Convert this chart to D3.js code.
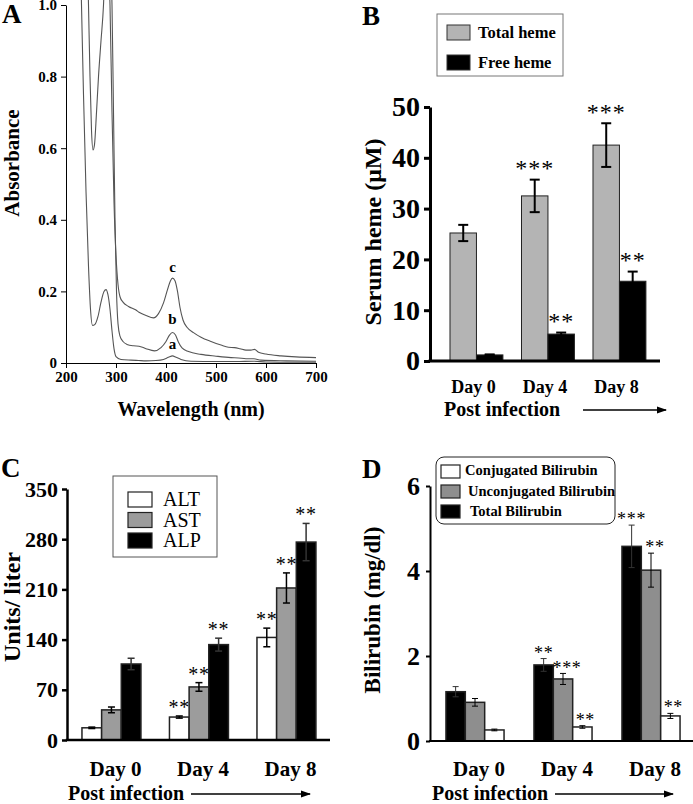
<!DOCTYPE html>
<html lang="en">
<head>
<meta charset="utf-8">
<title>Serum heme and liver markers</title>
<script src="https://d3js.org/d3.v7.min.js"></script>
<style>
  body { margin: 0; background: #fff; }
  svg text { font-family: "Liberation Serif", "DejaVu Serif", "Noto Serif", "Times New Roman", serif; }
</style>
</head>
<body>
<svg id="fig" width="693" height="804"></svg>
<script>
// ---------- panel A : absorbance spectra, [wavelength nm, absorbance]
const spectrumA = [[226,1.3],[231,1.0],[235,0.75],[240,0.48],[245,0.27],[249,0.15],[253,0.105],[258,0.108],[264,0.13],[270,0.17],[276,0.2],[280,0.205],[284,0.19],[288,0.15],[292,0.09],[296,0.04],[300,0.018],[310,0.01],[330,0.008],[345,0.007],[360,0.006],[380,0.007],[395,0.01],[405,0.016],[413,0.02],[420,0.016],[430,0.01],[450,0.005],[500,0.004],[540,0.004],[575,0.005],[600,0.003],[650,0.002],[700,0.002]];
const spectrumB = [[240,1.3],[245,1.0],[248,0.8],[251,0.65],[254,0.595],[257,0.61],[261,0.7],[265,0.8],[270,0.9],[275,1.0],[280,1.2],[285,1.25],[289,1.1],[292,1.0],[295,0.7],[298,0.4],[301,0.2],[304,0.11],[308,0.075],[314,0.06],[322,0.052],[335,0.048],[346,0.047],[360,0.04],[377,0.034],[390,0.043],[400,0.06],[407,0.078],[413,0.085],[419,0.078],[425,0.058],[432,0.042],[445,0.032],[470,0.024],[500,0.019],[530,0.015],[545,0.014],[560,0.012],[575,0.012],[590,0.008],[640,0.006],[700,0.005]];
const spectrumC = [[280,1.3],[285,1.1],[288,1.0],[292,0.7],[296,0.45],[300,0.3],[304,0.22],[308,0.185],[314,0.17],[325,0.158],[340,0.148],[346,0.142],[360,0.133],[375,0.126],[385,0.138],[395,0.168],[403,0.205],[409,0.23],[413,0.237],[418,0.23],[423,0.2],[428,0.155],[434,0.12],[442,0.1],[455,0.085],[470,0.072],[490,0.06],[510,0.05],[525,0.044],[537,0.043],[548,0.04],[560,0.036],[570,0.036],[577,0.038],[585,0.03],[600,0.025],[630,0.02],[660,0.017],[700,0.015]];
const wavelengthTicks = [200, 300, 400, 500, 600, 700];
const absorbanceTicks = [0, 0.2, 0.4, 0.6, 0.8, 1.0];

// ---------- shared
const days = ["Day 0", "Day 4", "Day 8"];

// ---------- panel B : serum heme (uM)
const totalHeme = [25.2, 32.5, 42.5];
const totalHemeErr = [1.6, 3.2, 4.3];
const totalHemeSig = ["", "***", "***"];
const freeHeme = [1.2, 5.3, 15.7];
const freeHemeErr = [0.1, 0.3, 1.9];
const freeHemeSig = ["", "**", "**"];
const hemeTicks = [0, 10, 20, 30, 40, 50];

// ---------- panel C : enzymes (units/liter)
const alt = [17, 32, 143];
const altErr = [1, 1.5, 13];
const altSig = ["", "**", "**"];
const ast = [42, 74, 212];
const astErr = [4, 6, 21];
const astSig = ["", "**", "**"];
const alp = [106, 133, 276];
const alpErr = [8, 9, 26];
const alpSig = ["", "**", "**"];
const enzymeTicks = [0, 70, 140, 210, 280, 350];

// ---------- panel D : bilirubin (mg/dl)
const totalBili = [1.16, 1.79, 4.58];
const totalBiliErr = [0.12, 0.15, 0.5];
const totalBiliSig = ["", "**", "***"];
const unconjBili = [0.91, 1.46, 4.02];
const unconjBiliErr = [0.09, 0.13, 0.4];
const unconjBiliSig = ["", "***", "**"];
const conjBili = [0.26, 0.33, 0.59];
const conjBiliErr = [0.02, 0.03, 0.06];
const conjBiliSig = ["", "**", "**"];
const biliTicks = [0, 2, 4, 6];

const svg = d3.select("#fig");
const serif = '"Liberation Serif", "DejaVu Serif", "Noto Serif", "Times New Roman", serif';

svg.append("defs").append("marker")
  .attr("id", "arrow").attr("viewBox", "0 0 10 10")
  .attr("refX", 9).attr("refY", 5)
  .attr("markerWidth", 10).attr("markerHeight", 10)
  .attr("markerUnits", "userSpaceOnUse")
  .attr("orient", "auto")
  .append("path").attr("d", "M0,1.5 L10,5 L0,8.5 Z").attr("fill", "#000");

function styleAxis(a, size, weight, width) {
  a.attr("font-family", serif);
  a.select(".domain").attr("stroke", "#000").attr("stroke-width", width);
  a.selectAll(".tick line").attr("stroke", "#000").attr("stroke-width", width);
  a.selectAll("text").attr("font-size", size).attr("font-weight", weight).attr("fill", "#000");
}

function panelLetter(t, x, y) {
  svg.append("text").attr("x", x).attr("y", y).text(t)
    .attr("font-size", 27).attr("font-weight", "bold");
}

function postInfection(x, y, x1, x2) {
  svg.append("text").attr("x", x).attr("y", y).text("Post infection")
    .attr("font-size", 20).attr("font-weight", "bold");
  svg.append("line").attr("x1", x1).attr("x2", x2).attr("y1", y - 6).attr("y2", y - 6)
    .attr("stroke", "#000").attr("stroke-width", 1.5).attr("marker-end", "url(#arrow)");
}

// ================= Panel A
(function () {
  const x = d3.scaleLinear().domain([200, 700]).range([66, 316]);
  const y = d3.scaleLinear().domain([0, 1]).range([363, 5]);
  svg.append("clipPath").attr("id", "clipA")
    .append("rect").attr("x", 66).attr("y", 0).attr("width", 250).attr("height", 363);

  const line = d3.line().x(d => x(d[0])).y(d => y(d[1])).curve(d3.curveMonotoneX);
  const g = svg.append("g").attr("clip-path", "url(#clipA)");
  [spectrumA, spectrumB, spectrumC].forEach(s => {
    g.append("path").datum(s).attr("d", line)
      .attr("fill", "none").attr("stroke", "#555").attr("stroke-width", 1.1);
  });

  svg.append("g").attr("transform", "translate(66,0)")
    .call(d3.axisLeft(y).tickValues(absorbanceTicks).tickFormat(d => d === 0 ? "0" : d3.format(".1f")(d))
      .tickSize(5).tickSizeOuter(0).tickPadding(4))
    .call(a => styleAxis(a, 15, "bold", 1));
  svg.append("g").attr("transform", "translate(0,363)")
    .call(d3.axisBottom(x).tickValues(wavelengthTicks).tickSize(5).tickSizeOuter(0).tickPadding(3))
    .call(a => styleAxis(a, 15, "bold", 1));

  [["c", 0.255, 413], ["b", 0.11, 413], ["a", 0.04, 413]].forEach(l => {
    svg.append("text").attr("x", x(l[2])).attr("y", y(l[1])).text(l[0])
      .attr("text-anchor", "middle").attr("font-size", 15).attr("font-weight", "bold");
  });

  svg.append("text").attr("transform", "translate(19,163) rotate(-90)")
    .attr("text-anchor", "middle").text("Absorbance")
    .attr("font-size", 21).attr("font-weight", "bold");
  svg.append("text").attr("x", 191).attr("y", 416).attr("text-anchor", "middle")
    .text("Wavelength (nm)").attr("font-size", 20).attr("font-weight", "bold");
  panelLetter("A", 2, 23);
})();

// ================= grouped bar panel helper
function barPanel(o) {
  const y = d3.scaleLinear().domain(o.yDomain).range([o.yBottom, o.yTop]);
  const x0 = d3.scaleBand().domain(days).range(o.xRange)
    .paddingInner(o.pad).paddingOuter(o.pad / 2);
  const x1 = d3.scaleBand().domain(o.series.map(s => s.key)).range([0, x0.bandwidth()]);
  const g = svg.append("g");

  o.series.forEach(s => {
    days.forEach((d, i) => {
      const bx = x0(d) + x1(s.key);
      const cx = bx + x1.bandwidth() / 2;
      const v = s.values[i], e = s.err[i];
      g.append("rect").attr("x", bx).attr("y", y(v))
        .attr("width", x1.bandwidth()).attr("height", y(0) - y(v))
        .attr("fill", s.fill).attr("stroke", "#222").attr("stroke-width", o.barStroke);
      const eb = g.append("g").attr("stroke", s.errColor || "#000").attr("stroke-width", o.errW);
      eb.append("line").attr("x1", cx).attr("x2", cx).attr("y1", y(v - e)).attr("y2", y(v + e));
      eb.append("line").attr("x1", cx - o.cap / 2).attr("x2", cx + o.cap / 2).attr("y1", y(v + e)).attr("y2", y(v + e));
      eb.append("line").attr("x1", cx - o.cap / 2).attr("x2", cx + o.cap / 2).attr("y1", y(v - e)).attr("y2", y(v - e));
      if (s.sig[i]) {
        g.append("text").attr("x", cx + (s.sigDx || 0)).attr("y", y(v + e) - o.sigGap + o.sigFont * 0.45)
          .attr("text-anchor", "middle").attr("font-size", o.sigFont)
          .attr("letter-spacing", o.sigFont * 0.04)
          .text(s.sig[i]);
      }
    });
  });

  svg.append("g").attr("transform", `translate(${o.axisX},0)`)
    .call(d3.axisLeft(y).tickValues(o.ticks).tickFormat(d3.format("d"))
      .tickSize(o.tickLen).tickSizeOuter(0).tickPadding(o.tickPad))
    .call(a => styleAxis(a, o.tickFont, "bold", o.axisW));
  svg.append("line").attr("x1", o.axisX - o.axisW / 2).attr("x2", o.xEnd)
    .attr("y1", y(0)).attr("y2", y(0)).attr("stroke", "#000").attr("stroke-width", o.axisW);

  days.forEach(d => {
    svg.append("text").attr("x", x0(d) + x0.bandwidth() / 2 + o.dayDx).attr("y", o.dayY)
      .attr("text-anchor", "middle").text(d)
      .attr("font-size", o.dayFont).attr("font-weight", "bold");
  });

  svg.append("text").attr("transform", `translate(${o.labelX},${o.labelY}) rotate(-90)`)
    .attr("text-anchor", "middle").text(o.label)
    .attr("font-size", o.labelFont).attr("font-weight", "bold");
}

// ================= Panel B
barPanel({
  yDomain: [0, 50], yBottom: 361, yTop: 107, xRange: [440.7, 655.2], pad: 0.26,
  axisX: 430, xEnd: 660, axisW: 3, tickLen: 6, tickPad: 4, tickFont: 28, ticks: hemeTicks,
  barStroke: 1, errW: 2, cap: 10, sigGap: 14, sigFont: 24,
  dayY: 393, dayDx: -3, dayFont: 18,
  label: "Serum heme (\u03bcM)", labelX: 381, labelY: 232, labelFont: 24,
  series: [
    { key: "total", values: totalHeme, err: totalHemeErr, sig: totalHemeSig, fill: "#b4b4b4" },
    { key: "free", values: freeHeme, err: freeHemeErr, sig: freeHemeSig, fill: "#000" }
  ]
});
(function () {
  svg.append("rect").attr("x", 437).attr("y", 14).attr("width", 126).attr("height", 62)
    .attr("fill", "#fff").attr("stroke", "#777").attr("stroke-width", 1);
  const items = [["Total heme", "#b4b4b4"], ["Free heme", "#000"]];
  items.forEach((it, i) => {
    svg.append("rect").attr("x", 447).attr("y", 25 + i * 30).attr("width", 23).attr("height", 15)
      .attr("fill", it[1]).attr("stroke", "#333");
    svg.append("text").attr("x", 478).attr("y", 38 + i * 30).text(it[0])
      .attr("font-size", 16.5).attr("font-weight", "bold");
  });
  panelLetter("B", 362, 25);
  postInfection(444, 416, 583, 666);
})();

// ================= Panel C
barPanel({
  yDomain: [0, 350], yBottom: 740, yTop: 489, xRange: [67.7, 330.2], pad: 0.326,
  axisX: 67, xEnd: 330, axisW: 2.5, tickLen: 5, tickPad: 4, tickFont: 22, ticks: enzymeTicks,
  barStroke: 1.5, errW: 1.5, cap: 7, sigGap: 11, sigFont: 20,
  dayY: 776, dayDx: 4, dayFont: 21,
  label: "Units/ liter", labelX: 20, labelY: 607, labelFont: 24,
  series: [
    { key: "alt", values: alt, err: altErr, sig: altSig, fill: "#fff" },
    { key: "ast", values: ast, err: astErr, sig: astSig, fill: "#9c9c9c" },
    { key: "alp", values: alp, err: alpErr, sig: alpSig, fill: "#000", errColor: "#333" }
  ]
});
(function () {
  svg.append("rect").attr("x", 113).attr("y", 476).attr("width", 104).attr("height", 81)
    .attr("fill", "#fff").attr("stroke", "#555").attr("stroke-width", 1);
  const items = [["ALT", "#fff"], ["AST", "#9c9c9c"], ["ALP", "#000"]];
  items.forEach((it, i) => {
    svg.append("rect").attr("x", 128).attr("y", 492 + i * 20.5).attr("width", 24).attr("height", 15)
      .attr("fill", it[1]).attr("stroke", "#222").attr("stroke-width", 1.2);
    svg.append("text").attr("x", 163).attr("y", 506 + i * 20.5).text(it[0])
      .attr("font-size", 20);
  });
  panelLetter("C", 1, 477);
  postInfection(68, 800, 191, 310);
})();

// ================= Panel D
barPanel({
  yDomain: [0, 6], yBottom: 741, yTop: 486, xRange: [431, 695], pad: 0.34,
  axisX: 430, xEnd: 693, axisW: 2, tickLen: 4, tickPad: 6, tickFont: 26, ticks: biliTicks,
  barStroke: 1.5, errW: 1, cap: 6, sigGap: 8, sigFont: 18,
  dayY: 776, dayDx: 4, dayFont: 21,
  label: "Bilirubin (mg/dl)", labelX: 380, labelY: 610, labelFont: 23,
  series: [
    { key: "total", values: totalBili, err: totalBiliErr, sig: totalBiliSig, fill: "#000", errColor: "#333" },
    { key: "unconj", values: unconjBili, err: unconjBiliErr, sig: unconjBiliSig, fill: "#8e8e8e", sigDx: 4 },
    { key: "conj", values: conjBili, err: conjBiliErr, sig: conjBiliSig, fill: "#fff", sigDx: 3 }
  ]
});
(function () {
  svg.append("rect").attr("x", 436).attr("y", 457).attr("width", 179).attr("height", 67)
    .attr("rx", 8).attr("fill", "#fff").attr("stroke", "#222").attr("stroke-width", 1);
  const items = [["Conjugated Bilirubin", "#fff", 465], ["Unconjugated Bilirubin", "#8e8e8e", 468], ["Total Bilirubin", "#000", 470]];
  items.forEach((it, i) => {
    svg.append("rect").attr("x", 441).attr("y", 465 + i * 20).attr("width", 19).attr("height", 13)
      .attr("fill", it[1]).attr("stroke", "#222").attr("stroke-width", 1.2);
    svg.append("text").attr("x", it[2]).attr("y", 475 + i * 20.5).text(it[0])
      .attr("font-size", 14.5).attr("font-weight", "bold");
  });
  panelLetter("D", 362, 478);
  postInfection(432, 800, 555, 673);
})();
</script>
</body>
</html>
